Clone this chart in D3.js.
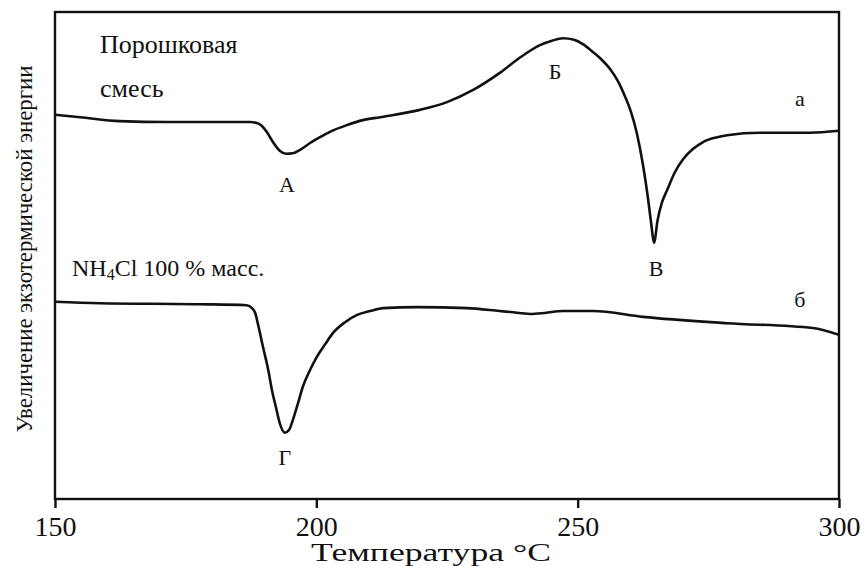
<!DOCTYPE html>
<html>
<head>
<meta charset="utf-8">
<script src="https://cdn.jsdelivr.net/npm/d3@7"></script>
<style>
  body { margin: 0; background: #fff; }
  svg { display: block; }
  text { font-family: "Liberation Serif", "Times New Roman", serif; fill: #111; }
</style>
</head>
<body>
<svg id="chart" width="866" height="566"></svg>
<script>
// Curve "а" - powder mixture (temperature, arbitrary heat-flow units)
const tempA = [150, 154.8, 162.4, 171.4, 187.3, 188.6, 189.6, 190.5, 191.7, 193.0, 194.2, 195.5, 196.9,
    198.8, 200.7, 202.6, 205.9, 208.9, 212.2, 219.8, 225.0, 230.0, 235.1, 238.9, 242.8, 245.1, 247.2,
    249.3, 251.0, 252.9, 254.7, 256.2, 257.7, 259.0, 260.2, 261.3, 262.5, 263.5, 264.1, 264.6, 265.3,
    266.1, 267.1, 268.6, 270.2, 272.1, 274.0, 276.3, 278.6, 284.9, 294.4, 300];
const signalA = [78.9, 78.4, 77.6, 77.4, 77.4, 77.2, 76.6, 75.4, 73.3, 71.5, 70.9, 71.0, 71.7,
    73.1, 74.3, 75.4, 76.8, 77.8, 78.4, 79.9, 81.5, 84.0, 87.5, 90.6, 93.2, 94.1, 94.6,
    94.3, 93.4, 91.8, 90.1, 88.3, 85.8, 82.8, 79.5, 75.2, 68.6, 61.4, 56.3, 52.6, 57.3,
    60.8, 63.4, 67.1, 69.8, 71.9, 73.3, 74.2, 74.7, 75.2, 75.2, 75.6];

// Curve "б" - NH4Cl 100 %
const tempB = [150, 158.6, 177.7, 186.7, 187.7, 188.3, 189.0, 189.8, 190.8, 191.5, 192.3, 193.0, 194.0,
    194.8, 195.5, 196.5, 197.4, 198.8, 200.1, 201.7, 203.2, 205.5, 207.8, 210.3, 212.8, 219.3, 228.8,
    235.1, 237.1, 240.9, 243.7, 247.2, 252.9, 262.5, 278.6, 295.0, 300];
const signalB = [40.5, 40.2, 40.0, 39.8, 39.2, 38.2, 35.1, 31.2, 26.5, 22.4, 18.7, 15.6, 13.6,
    14.2, 16.2, 19.7, 23.0, 26.5, 29.2, 31.8, 34.1, 36.3, 37.8, 38.6, 39.2, 39.4, 39.2,
    38.6, 38.4, 38.0, 38.2, 38.6, 38.6, 37.4, 36.1, 35.1, 33.7];

const xTicks = [150, 200, 250, 300];

// Peak letters and curve names
const noteText = ["А", "Б", "В", "Г", "а", "б"];
const noteTemp = [194.4, 245.7, 265.0, 194.0, 292.5, 292.5];
const noteSignal = [64.5, 87.7, 47.4, 8.6, 82.3, 40.9];

const svg = d3.select("#chart");
const plotLeft = 55, plotRight = 839, plotTop = 12, plotBottom = 499;

const x = d3.scaleLinear().domain([150, 300]).range([plotLeft, plotRight]);
const y = d3.scaleLinear().domain([0, 100]).range([plotBottom, plotTop]);

// frame
svg.append("rect")
    .attr("x", plotLeft)
    .attr("y", plotTop)
    .attr("width", plotRight - plotLeft)
    .attr("height", plotBottom - plotTop)
    .attr("fill", "none")
    .attr("stroke", "#111")
    .attr("stroke-width", 2.4);

// bottom axis
const xAxis = svg.append("g")
    .attr("transform", `translate(0, ${plotBottom})`)
    .call(d3.axisBottom(x).tickValues(xTicks).tickSize(9).tickPadding(8).tickFormat(d3.format("d")));
xAxis.select(".domain").remove();
xAxis.selectAll("line").attr("stroke", "#111").attr("stroke-width", 2.4);
xAxis.selectAll("text")
    .attr("font-size", "28px")
    .attr("font-family", "Liberation Serif, serif")
    .attr("fill", "#111");

const line = (tt, ss) => d3.line()
    .x((d, i) => x(tt[i]))
    .y((d, i) => y(ss[i]))
    .curve(d3.curveMonotoneX)(tt);

svg.append("path")
    .attr("d", line(tempA, signalA))
    .attr("fill", "none")
    .attr("stroke", "#111")
    .attr("stroke-width", 2.6)
    .attr("stroke-linejoin", "round");

svg.append("path")
    .attr("d", line(tempB, signalB))
    .attr("fill", "none")
    .attr("stroke", "#111")
    .attr("stroke-width", 2.6)
    .attr("stroke-linejoin", "round");

noteText.forEach((t, i) => {
    svg.append("text")
        .attr("x", x(noteTemp[i]))
        .attr("y", y(noteSignal[i]))
        .attr("text-anchor", "middle")
        .attr("dominant-baseline", "central")
        .attr("font-size", "22px")
        .text(t);
});

// sample names
svg.append("text")
    .attr("x", 100)
    .attr("y", 53)
    .attr("font-size", "26px")
    .text("Порошковая");
svg.append("text")
    .attr("x", 100)
    .attr("y", 97)
    .attr("font-size", "26px")
    .text("смесь");

const nh = svg.append("text")
    .attr("x", 72)
    .attr("y", 276)
    .attr("font-size", "24px");
nh.append("tspan").text("NH");
nh.append("tspan").attr("font-size", "16px").attr("dy", 4).text("4");
nh.append("tspan").attr("dy", -4).text("Cl 100 % масс.");

// axis titles
svg.append("text")
    .attr("x", 431)
    .attr("y", 561)
    .attr("text-anchor", "middle")
    .attr("font-size", "25px")
    .attr("textLength", 240)
    .attr("lengthAdjust", "spacingAndGlyphs")
    .text("Температура °С");

svg.append("text")
    .attr("transform", "translate(32, 249) rotate(-90)")
    .attr("text-anchor", "middle")
    .attr("font-size", "23px")
    .attr("textLength", 367)
    .attr("lengthAdjust", "spacingAndGlyphs")
    .text("Увеличение экзотермической энергии");
</script>
</body>
</html>
